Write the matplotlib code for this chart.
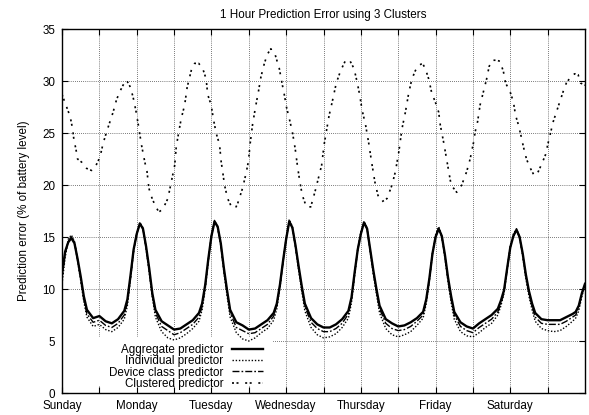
import matplotlib.pyplot as plt
from matplotlib.ticker import FixedLocator
from matplotlib.patches import Rectangle

plt.rcParams['font.family'] = ['Liberation Sans', 'DejaVu Sans']
plt.rcParams['font.size'] = 8.4

# Day labels (one every 24 hours)
day_names = ['Sunday', 'Monday', 'Tuesday', 'Wednesday', 'Thursday', 'Friday', 'Saturday']

# Hours of the week for the three lower curves
hours = [0, 1, 2, 3, 4, 5, 6, 7, 8, 10, 12, 14, 16, 18, 20,
         21, 22, 23, 24, 25, 26, 27, 28, 29, 30, 32, 34, 36, 38, 40, 42, 44,
         45, 46, 47, 48, 49, 50, 51, 52, 53, 54, 56, 58, 60, 62, 64, 66, 68,
         69, 70, 71, 72, 73, 74, 75, 76, 77, 78, 80, 82, 84, 86, 88, 90, 92,
         93, 94, 95, 96, 97, 98, 99, 100, 101, 102, 104, 106, 108, 110, 112, 114, 116,
         117, 118, 119, 120, 121, 122, 123, 124, 125, 126, 128, 130, 132, 134, 136, 138, 140,
         141, 142, 143, 144, 145, 146, 147, 148, 149, 150, 151, 152, 154, 156, 158, 160, 162,
         164, 165, 166, 167, 168]

aggregate = [11.5, 13.6, 14.5, 14.9, 14.4, 12.9, 11.2, 9.3, 8.0, 7.2, 7.4, 6.9, 6.7, 7.1, 7.9,
             9.0, 11.3, 13.8, 15.3, 16.3, 15.8, 14.1, 12.0, 9.6, 8.0, 6.9, 6.5, 6.1, 6.2, 6.6, 7.0, 7.7,
             8.6, 10.4, 12.9, 15.1, 16.5, 16.0, 14.4, 12.0, 9.9, 8.0, 6.8, 6.5, 6.1, 6.2, 6.6, 7.0, 7.7,
             8.6, 10.4, 12.7, 14.8, 16.5, 15.9, 14.2, 12.2, 10.3, 8.6, 7.2, 6.6, 6.3, 6.3, 6.6, 7.1, 7.9,
             9.2, 11.6, 13.8, 15.3, 16.4, 15.8, 13.8, 11.8, 10.0, 8.4, 7.1, 6.7, 6.4, 6.5, 6.8, 7.2, 7.8,
             9.0, 11.0, 13.4, 15.0, 15.8, 15.1, 13.3, 11.1, 9.3, 7.8, 6.8, 6.4, 6.2, 6.7, 7.1, 7.5, 8.1,
             8.9, 9.9, 12.0, 14.0, 15.1, 15.7, 15.0, 13.4, 11.4, 9.8, 8.6, 7.7, 7.1, 7.0, 7.0, 7.0, 7.3,
             7.6, 7.8, 8.4, 9.6, 10.5]

individual = [10.5, 13.0, 14.8, 15.2, 14.6, 12.7, 10.8, 8.8, 7.3, 6.4, 6.6, 6.1, 5.9, 6.3, 7.1,
              8.4, 11.0, 13.6, 15.4, 16.4, 15.9, 13.9, 11.6, 9.2, 7.3, 5.9, 5.3, 5.1, 5.3, 5.7, 6.2, 6.9,
              8.0, 10.0, 12.7, 15.2, 16.6, 15.9, 14.2, 11.6, 9.4, 7.3, 5.8, 5.2, 5.0, 5.3, 5.8, 6.2, 7.0,
              8.1, 10.1, 12.6, 14.9, 16.7, 16.0, 14.0, 11.8, 9.8, 7.9, 6.3, 5.6, 5.3, 5.4, 5.7, 6.3, 7.2,
              8.7, 11.3, 13.8, 15.5, 16.5, 15.9, 13.6, 11.4, 9.5, 7.7, 6.2, 5.6, 5.4, 5.6, 5.9, 6.5, 7.2,
              8.6, 10.8, 13.4, 15.2, 16.0, 15.1, 13.0, 10.7, 8.7, 7.1, 5.9, 5.5, 5.4, 5.8, 6.3, 6.7, 7.5,
              8.4, 9.6, 11.9, 14.1, 15.3, 15.8, 15.0, 13.1, 11.0, 9.3, 8.0, 6.9, 6.2, 6.0, 5.9, 6.0, 6.4,
              6.9, 7.2, 7.9, 9.3, 10.4]

device_class = [11.0, 13.4, 14.6, 15.0, 14.5, 12.8, 11.0, 9.0, 7.6, 6.8, 7.0, 6.5, 6.3, 6.7, 7.5,
                8.7, 11.1, 13.7, 15.3, 16.3, 15.8, 14.0, 11.8, 9.4, 7.7, 6.4, 6.0, 5.6, 5.8, 6.2, 6.6, 7.3,
                8.3, 10.2, 12.8, 15.1, 16.5, 15.9, 14.3, 11.8, 9.7, 7.7, 6.3, 6.0, 5.7, 5.8, 6.2, 6.6, 7.4,
                8.4, 10.3, 12.6, 14.8, 16.5, 15.9, 14.1, 12.0, 10.1, 8.3, 6.8, 6.2, 5.9, 5.9, 6.2, 6.7, 7.6,
                9.0, 11.5, 13.8, 15.3, 16.4, 15.8, 13.7, 11.6, 9.8, 8.1, 6.7, 6.2, 6.0, 6.1, 6.4, 6.9, 7.5,
                8.8, 10.9, 13.4, 15.0, 15.8, 15.0, 13.2, 10.9, 9.0, 7.5, 6.4, 6.0, 5.8, 6.3, 6.7, 7.1, 7.8,
                8.6, 9.7, 11.9, 14.0, 15.1, 15.7, 14.9, 13.3, 11.2, 9.6, 8.3, 7.3, 6.7, 6.6, 6.6, 6.6, 6.9,
                7.3, 7.5, 8.2, 9.5, 10.5]

# Upper curve, read at its own (uneven) hours
clustered_hours = [0, 1, 2.6, 3.4, 3.8, 4.5, 5, 6.3, 7.9, 9.5, 11.1, 12.2, 13.2, 14.3, 15.4, 16.4,
                   17.5, 18.6, 19.6, 20.7, 21.8, 22.8, 23.7, 24.5, 25.5, 26.6, 27.3, 27.9, 28.7, 29.8,
                   31.1, 32.4, 34, 35.1, 36.2, 36.7, 37.5, 38.3, 39.4, 40.2, 41.5, 42.6, 43.9, 45.2,
                   46.3, 46.8, 47.9, 48.6, 49.5, 50.6, 51.1, 51.6, 52.2, 53.2, 54.6, 55.9, 56.4, 58,
                   59.1, 59.9, 60.4, 61.2, 62.1, 63.1, 63.9, 65, 66, 67.1, 68.5, 69.8, 70.6, 71.4,
                   72.1, 73, 74, 74.9, 75.6, 76.4, 77.2, 78.5, 79.9, 81.3, 82.3, 83.4, 84.2, 84.9,
                   85.8, 86.8, 88.1, 89.5, 91.1, 92.4, 93.8, 94.8, 95.6, 96.4, 97.5, 98.6, 99.4,
                   100.5, 101.5, 102.8, 104.4, 106, 107.1, 108.2, 109.2, 110.3, 111.4, 112.4, 113.5,
                   114.6, 115.8, 116.7, 117.8, 118.8, 119.9, 121, 121.5, 122.6, 123.3, 124.2, 125,
                   126.8, 128.4, 130, 131.1, 132.2, 132.7, 133.5, 134.3, 135.4, 136.4, 137.2, 138.2,
                   139.6, 140.7, 141.8, 142.5, 143.9, 145, 145.7, 146.6, 147.4, 148.2, 149.2, 150.3,
                   151.7, 153, 154.2, 155.3, 156.2, 157, 157.8, 158.8, 159.9, 161, 162, 163.4, 164.7,
                   165.8, 166.6, 168]
clustered = [28.7, 27.9, 26.6, 25.4, 24.4, 23.4, 22.5, 22.2, 21.6, 21.4, 22.0, 22.7, 24.0, 25.1, 26.1, 27.0,
             28.2, 29.0, 29.6, 30.1, 29.5, 28.5, 27.2, 25.8, 23.9, 22.2, 21.3, 19.7, 18.9, 18.1,
             17.4, 17.7, 18.7, 20.3, 21.9, 23.7, 25.1, 26.4, 27.7, 29.4, 31.0, 31.7, 31.7, 31.2,
             30.2, 28.7, 27.7, 26.4, 25.0, 23.9, 22.3, 21.3, 20.0, 18.7, 17.8, 17.9, 18.2, 19.7,
             21.1, 22.3, 23.9, 25.8, 27.4, 29.0, 30.4, 31.7, 32.6, 33.1, 32.5, 31.2, 29.9, 28.7,
             27.5, 26.4, 25.1, 23.5, 21.9, 20.3, 19.0, 17.9, 17.9, 19.4, 20.6, 21.9, 23.9, 25.1,
             26.7, 28.0, 29.8, 31.0, 32.0, 32.0, 31.2, 29.9, 28.7, 27.2, 25.8, 23.9, 22.3,
             20.3, 19.0, 18.4, 18.7, 20.0, 21.3, 23.2, 25.4, 27.0, 28.9, 30.2, 31.0,
             31.5, 31.7, 31.2, 30.2, 28.8, 28.0, 27.0, 25.8, 24.1, 22.9, 21.3, 20.0,
             19.3, 20.0, 21.3, 22.5, 24.1, 25.1, 26.1, 27.7, 29.0, 30.2, 31.4, 32.0,
             32.0, 31.9, 30.9, 29.8, 29.0, 28.0, 26.7, 25.8, 24.8, 23.7, 22.5, 21.7,
             20.9, 21.3, 22.1, 22.9, 24.1, 25.1, 26.1, 27.0, 28.0, 29.0, 29.8, 30.4, 30.7,
             30.6, 29.8, 29.6]

fig = plt.figure(figsize=(5.89, 4.15), dpi=100)
ax = fig.add_axes([0.1053, 0.053, 0.8879, 0.877])

# Plot the four predictors
ax.plot(hours, aggregate, color='black', lw=1.7, linestyle='-', label='Aggregate predictor')
ax.plot(hours, individual, color='black', lw=1.0, linestyle=(0, (1, 1.3)), label='Individual predictor')
ax.plot(hours, device_class, color='black', lw=1.0, linestyle=(0, (5, 1.5, 1.2, 1.5)), label='Device class predictor')
ax.plot(clustered_hours, clustered, color='black', lw=1.2, linestyle=(0, (1.2, 1.5, 1.2, 4)), label='Clustered predictor')

ax.set_xlim(0, 168)
ax.set_ylim(0, 35)
ax.set_title('1 Hour Prediction Error using 3 Clusters', fontsize=8.4, pad=8)
ax.set_ylabel('Prediction error (% of battery level)', labelpad=9)

# Day labels every 24h, grid every 12h
ax.set_xticks(range(0, 168, 24))
ax.set_xticklabels(day_names)
ax.xaxis.set_minor_locator(FixedLocator(range(12, 168, 24)))
ax.set_yticks(range(0, 36, 5))
ax.tick_params(which='both', direction='in', top=True, right=True, length=4, width=0.8, pad=5)
ax.grid(True, which='both', color='black', lw=0.5, linestyle=(0, (1, 2)))
for spine in ax.spines.values():
    spine.set_linewidth(1.0)

# Opaque key area (hides the grid behind the legend, like gnuplot)
ax.add_patch(Rectangle((0.002, 0.02), 0.402, 0.135, transform=ax.transAxes,
                       facecolor='white', edgecolor='none', zorder=1.8))

leg = ax.legend(loc='upper right', bbox_to_anchor=(0.40, 0.158), markerfirst=False,
                frameon=False, borderpad=0.2, handlelength=2.7, handletextpad=0.7,
                labelspacing=-0.05, fontsize=8.4)

plt.savefig('out.png', dpi=100)
plt.close()
